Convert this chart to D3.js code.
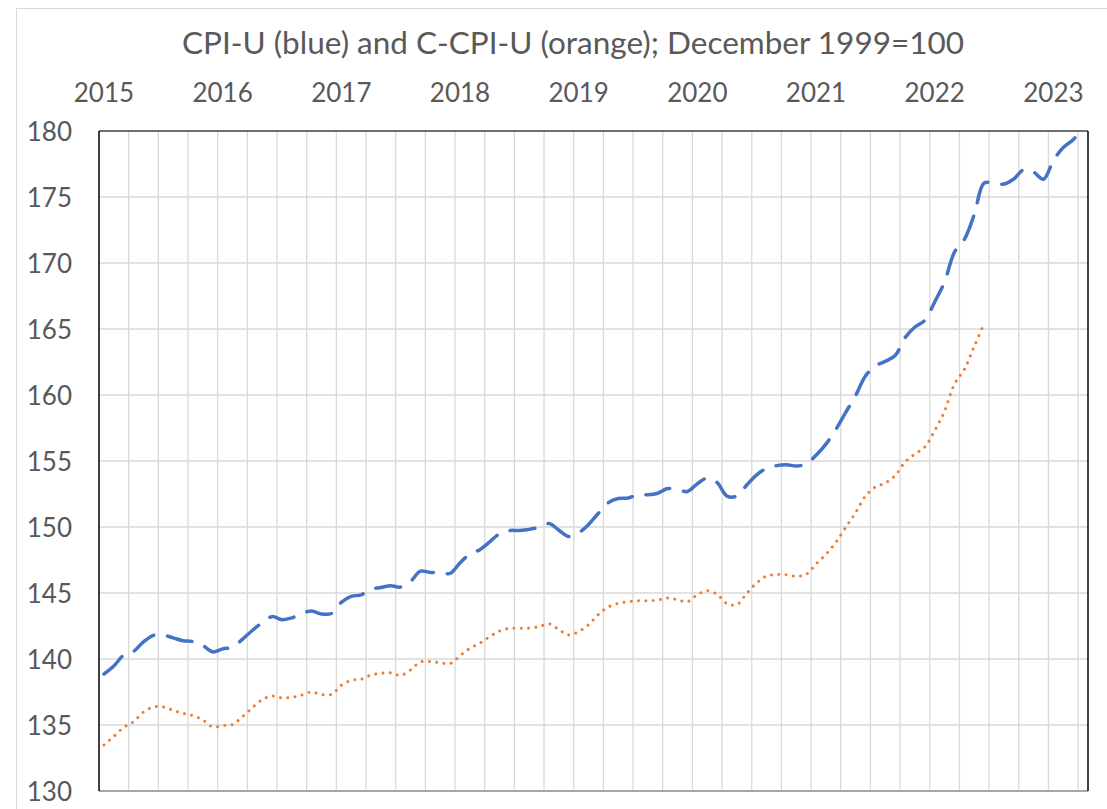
<!DOCTYPE html>
<html>
<head>
<meta charset="utf-8">
<script src="https://cdn.jsdelivr.net/npm/d3@7"></script>
<style>
  html, body { margin: 0; padding: 0; background: #ffffff; }
  svg { display: block; }
  text { font-family: Lato, "Open Sans", "Liberation Sans", sans-serif; fill: #595959; }
</style>
</head>
<body>
<svg id="chart" width="1107" height="809"></svg>
<script>
// ---- Data ----
const titleText = "CPI-U (blue) and C-CPI-U (orange); December 1999=100";
const years = ["2015", "2016", "2017", "2018", "2019", "2020", "2021", "2022", "2023"];
const monthNames = ["Jan","Feb","Mar","Apr","May","Jun","Jul","Aug","Sep","Oct","Nov","Dec"];
const yTicks = [130, 135, 140, 145, 150, 155, 160, 165, 170, 175, 180];

// CPI-U, Dec 1999 = 100 (monthly, Jan 2015 - Apr 2023)
const cpiU = [
  138.86, 139.47, 140.30, 140.58, 141.30, 141.79, 141.80, 141.60, 141.38, 141.32, 141.02, 140.54,
  140.77, 140.89, 141.49, 142.16, 142.74, 143.21, 142.98, 143.11, 143.45, 143.63, 143.41, 143.45,
  144.29, 144.74, 144.86, 145.29, 145.41, 145.55, 145.45, 145.88, 146.65, 146.56, 146.57, 146.48,
  147.28, 147.94, 148.28, 148.87, 149.49, 149.73, 149.74, 149.82, 149.99, 150.26, 149.76, 149.28,
  149.56, 150.19, 151.04, 151.84, 152.16, 152.19, 152.45, 152.44, 152.56, 152.91, 152.83, 152.69,
  153.28, 153.70, 153.37, 152.34, 152.34, 153.18, 153.95, 154.44, 154.65, 154.72, 154.62, 154.77,
  155.43, 156.28, 157.38, 158.68, 159.95, 161.44, 162.21, 162.55, 162.99, 164.34, 165.15, 165.66,
  167.05, 168.58, 170.83, 171.78, 173.68, 176.06, 176.04, 175.98, 176.36, 177.07, 176.89, 176.35,
  177.76, 178.75, 179.34, 180.25
];

// C-CPI-U, Dec 1999 = 100 (monthly, Jan 2015 - Jun 2022)
const ccpiU = [
  133.48, 134.14, 134.82, 135.25, 135.98, 136.36, 136.36, 136.11, 135.88, 135.71, 135.38, 134.85,
  134.95, 135.03, 135.63, 136.31, 136.92, 137.20, 137.05, 137.10, 137.27, 137.50, 137.30, 137.32,
  138.00, 138.39, 138.46, 138.79, 138.92, 138.95, 138.76, 139.17, 139.77, 139.80, 139.72, 139.65,
  140.25, 140.81, 141.19, 141.69, 142.12, 142.32, 142.32, 142.35, 142.45, 142.67, 142.22, 141.82,
  142.08, 142.60, 143.38, 143.94, 144.22, 144.34, 144.42, 144.42, 144.47, 144.62, 144.49, 144.34,
  144.87, 145.17, 144.90, 144.19, 144.12, 144.98, 145.76, 146.29, 146.39, 146.39, 146.26, 146.41,
  147.20, 147.93, 148.84, 149.97, 151.09, 152.35, 153.03, 153.33, 153.89, 154.92, 155.53, 156.06,
  157.31, 158.79, 160.83, 161.94, 163.69, 165.40
];

// category labels: one per month
const categories = [];
years.forEach(y => monthNames.forEach(m => categories.push(m + " " + y)));
categories.length = cpiU.length;

// ---- Layout ----
const plot = { left: 99, right: 1088, top: 131, bottom: 791 };
const svg = d3.select("#chart");

// chart area border
svg.append("rect")
  .attr("x", 16.5).attr("y", 8.5)
  .attr("width", 1200).attr("height", 900)
  .attr("fill", "#ffffff").attr("stroke", "#d9d9d9").attr("stroke-width", 1);

const x = d3.scaleBand().domain(categories).range([plot.left, plot.right]).paddingInner(0).paddingOuter(0);
const y = d3.scaleLinear().domain([130, 180]).range([plot.bottom, plot.top]);
const cx = i => x(categories[i]) + x.bandwidth() / 2;

// title
svg.append("text")
  .attr("x", 573).attr("y", 54)
  .attr("text-anchor", "middle")
  .style("font-size", "31.5px")
  .text(titleText);

// horizontal gridlines
svg.append("g").selectAll("line").data(yTicks.slice(1, -1)).join("line")
  .attr("x1", plot.left).attr("x2", plot.right)
  .attr("y1", d => y(d)).attr("y2", d => y(d))
  .attr("stroke", "#d9d9d9").attr("stroke-width", 1.5);

// vertical gridlines every 3 months
const gridCats = categories.filter((c, i) => i % 3 === 0 && i > 0);
svg.append("g").selectAll("line").data(gridCats).join("line")
  .attr("x1", d => x(d)).attr("x2", d => x(d))
  .attr("y1", plot.top).attr("y2", plot.bottom)
  .attr("stroke", "#d9d9d9").attr("stroke-width", 1.3);

// y axis labels
svg.append("g").selectAll("text").data(yTicks).join("text")
  .attr("x", 72).attr("y", d => y(d) + 9.5)
  .attr("text-anchor", "end")
  .style("font-size", "26px")
  .text(d => d);

// year labels at top (centered on January of each year)
svg.append("g").selectAll("text").data(years).join("text")
  .attr("x", (d, k) => cx(k * 12))
  .attr("y", 101.5)
  .attr("text-anchor", "middle")
  .style("font-size", "26px")
  .text(d => d);

// clip
svg.append("clipPath").attr("id", "plotclip").append("rect")
  .attr("x", plot.left).attr("y", plot.top)
  .attr("width", plot.right - plot.left).attr("height", plot.bottom - plot.top);

const line = d3.line()
  .x((d, i) => cx(i))
  .y(d => y(d))
  .curve(d3.curveCatmullRom.alpha(0.5));

const g = svg.append("g").attr("clip-path", "url(#plotclip)");

g.append("path").datum(ccpiU)
  .attr("d", line)
  .attr("fill", "none")
  .attr("stroke", "#ED7D31")
  .attr("stroke-width", 3)
  .attr("stroke-linecap", "round")
  .attr("stroke-dasharray", "0.01 7.3");

g.append("path").datum(cpiU)
  .attr("d", line)
  .attr("fill", "none")
  .attr("stroke", "#4472C4")
  .attr("stroke-width", 3.5)
  .attr("stroke-linecap", "round")
  .attr("stroke-dasharray", "25 14");

// plot borders
svg.append("line").attr("x1", plot.left).attr("x2", plot.right).attr("y1", plot.bottom).attr("y2", plot.bottom)
  .attr("stroke", "#a6a6a6").attr("stroke-width", 2);
svg.append("line").attr("x1", plot.left).attr("x2", plot.right).attr("y1", plot.top).attr("y2", plot.top)
  .attr("stroke", "#404040").attr("stroke-width", 1.3);
svg.append("line").attr("x1", plot.left).attr("x2", plot.left).attr("y1", plot.top).attr("y2", plot.bottom)
  .attr("stroke", "#000000").attr("stroke-width", 1.5);
svg.append("line").attr("x1", plot.right).attr("x2", plot.right).attr("y1", plot.top).attr("y2", plot.bottom)
  .attr("stroke", "#000000").attr("stroke-width", 1.5);
</script>
</body>
</html>
